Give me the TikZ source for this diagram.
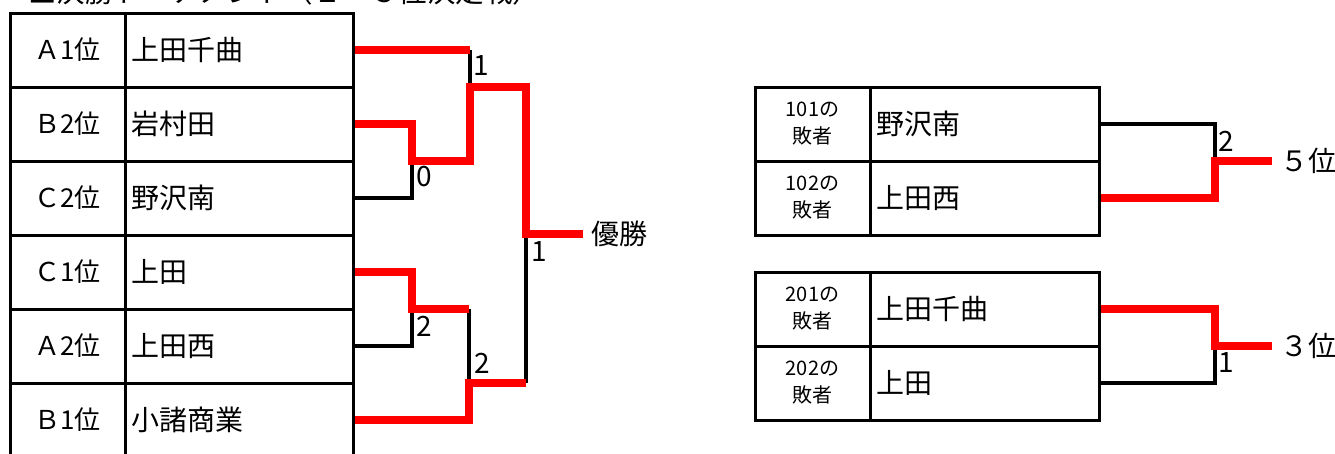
\documentclass[tikz,border=0pt]{standalone}
\usepackage{fontspec}
\setmainfont{Noto Sans CJK JP}
\begin{document}
\begin{tikzpicture}[x=1pt,y=-1pt,
  lab/.style={draw, line width=3pt, minimum width=115pt, minimum height=74pt, inner sep=0pt, font=\fontsize{26}{30}\selectfont},
  nam/.style={draw, line width=3pt, minimum width=228pt, minimum height=74pt, inner xsep=6pt, inner ysep=0pt, text width=216pt, align=left, font=\fontsize{28}{32}\selectfont},
  slab/.style={lab, align=center, font=\fontsize{20}{27}\selectfont},
  num/.style={inner sep=0pt, font=\fontsize{28}{30}\selectfont},
  win/.style={draw=red, line width=7.5pt},
  lose/.style={draw=black, line width=3.2pt},
  place/.style={anchor=west, inner xsep=8pt, inner ysep=0pt, font=\fontsize{28}{30}\selectfont}]
\clip (0,0) rectangle (1335,453);
\fill[white] (0,0) rectangle (1335,453);
% title (cut off at the top)
\node[anchor=base west, inner sep=0pt, font=\fontsize{28.5}{30}\selectfont] (title) at (28,2) {■決勝トーナメント（２・３位決定戦）};
% left table
\node[lab] (a1) at (67.5,50) {Ａ1位};
\node[nam] (a1n) at (239,50) {上田千曲};
\node[lab] (b2) at (67.5,124) {Ｂ2位};
\node[nam] (b2n) at (239,124) {岩村田};
\node[lab] (c2) at (67.5,198) {Ｃ2位};
\node[nam] (c2n) at (239,198) {野沢南};
\node[lab] (c1) at (67.5,272) {Ｃ1位};
\node[nam] (c1n) at (239,272) {上田};
\node[lab] (a2) at (67.5,346) {Ａ2位};
\node[nam] (a2n) at (239,346) {上田西};
\node[lab] (b1) at (67.5,420) {Ｂ1位};
\node[nam] (b1n) at (239,420) {小諸商業};
% bracket points
\coordinate (q1) at (412,161);
\coordinate (s1) at (470,87);
\coordinate (q2) at (412,309);
\coordinate (s2) at (469,383);
\coordinate (f) at (526,234);
\node[place] (champ) at (583,234) {優勝};
% losers' lines
\draw[lose] (a1n.east -| s1) -- (s1);
\draw[lose] (c2n.east) -| (q1);
\draw[lose] (q2 -| s2) -- (s2);
\draw[lose] (a2n.east) -| (q2);
\draw[lose] (s2 -| f) -- (f);
% winners' lines
\draw[win] (a1n.east) -- (a1n.east -| s1);
\draw[win] (b2n.east) -| (q1) -| (s1) -| (f) -- (champ.west);
\draw[win] (c1n.east) -| (q2) -- (q2 -| s2);
\draw[win] (b1n.east) -| (s2) -- (s2 -| f);
% scores
\node[num] (sc1) at (481,66) {1};
\node[num] (sc2) at (424,177) {0};
\node[num] (sc3) at (424,326) {2};
\node[num] (sc4) at (482,363) {2};
\node[num] (sc5) at (539,252) {1};
% right top table
\node[slab] (u1) at (812.5,124) {101の\\敗者};
\node[nam, minimum width=229pt, text width=217pt] (u1n) at (984.5,124) {野沢南};
\node[slab] (u2) at (812.5,198) {102の\\敗者};
\node[nam, minimum width=229pt, text width=217pt] (u2n) at (984.5,198) {上田西};
\coordinate (p5) at (1215,161);
\node[place] (fifth) at (1272,161) {５位};
\draw[lose] (u1n.east) -| (p5);
\draw[win] (u2n.east) -| (p5) -- (fifth.west);
\node[num] (sc6) at (1226,141) {2};
% right bottom table
\node[slab] (v1) at (812.5,309) {201の\\敗者};
\node[nam, minimum width=229pt, text width=217pt] (v1n) at (984.5,309) {上田千曲};
\node[slab] (v2) at (812.5,383) {202の\\敗者};
\node[nam, minimum width=229pt, text width=217pt] (v2n) at (984.5,383) {上田};
\coordinate (p3) at (1215,346);
\node[place] (third) at (1272,346) {３位};
\draw[lose] (v2n.east) -| (p3);
\draw[win] (v1n.east) -| (p3) -- (third.west);
\node[num] (sc7) at (1226,363) {1};
\end{tikzpicture}
\end{document}
